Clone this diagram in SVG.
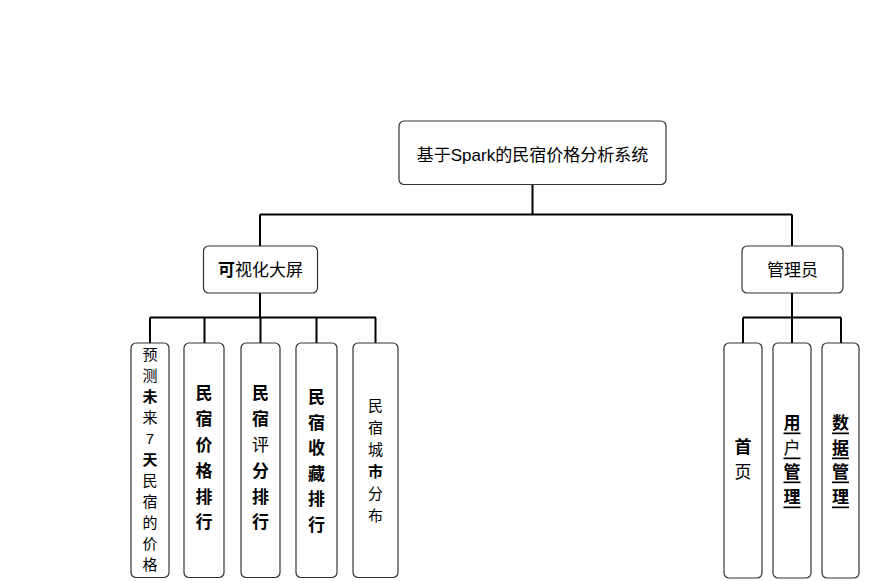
<svg xmlns="http://www.w3.org/2000/svg" width="871" height="581" viewBox="0 0 871 581">
<style>
.box{fill:#fff;stroke:#333;stroke-width:1.2}
.t{font-family:"Liberation Sans","Noto Sans CJK SC",sans-serif;fill:#000;text-anchor:middle;dominant-baseline:central}
.c{fill:none;stroke:#000;stroke-width:2}
.b{font-weight:bold}
.u{text-decoration:underline}
</style>
<rect width="871" height="581" fill="#fff"/>
<g id="connectors">
<path class="c" d="M532.5 185V214.5M260 214.5H792M260 214.5V246M792 214.5V246"/>
<path class="c" d="M260 293V317.5M150 317.5H376M150 317.5V343M204.5 317.5V343M260.5 317.5V343M316.5 317.5V343M375.5 317.5V343"/>
<path class="c" d="M792 293V317.5M743 317.5H841M743 317.5V343M792 317.5V343M841 317.5V343"/>
</g>
<g id="root">
<rect class="box" x="399" y="121" width="267" height="63.5" rx="5"/>
<text class="t" x="532.5" y="155" font-size="17">基于Spark的民宿价格分析系统</text>
</g>
<g id="n-screen">
<rect class="box" x="203.5" y="246" width="114" height="47" rx="5"/>
<text class="t" x="260.5" y="270" font-size="17"><tspan class="b">可</tspan>视化大屏</text>
</g>
<g id="n-admin">
<rect class="box" x="742" y="246" width="101" height="47" rx="5"/>
<text class="t" x="792.5" y="270" font-size="17">管理员</text>
</g>
<g id="n-predict">
<rect class="box" x="131" y="343" width="38" height="234.5" rx="5"/>
<text class="t" font-size="15">
<tspan x="150" y="354">预</tspan><tspan x="150" y="375">测</tspan><tspan class="b" x="150" y="396">未</tspan><tspan x="150" y="417">来</tspan><tspan x="150" y="438">7</tspan><tspan class="b" x="150" y="459">天</tspan><tspan x="150" y="480">民</tspan><tspan x="150" y="501">宿</tspan><tspan x="150" y="522">的</tspan><tspan x="150" y="543">价</tspan><tspan x="150" y="564">格</tspan>
</text>
</g>
<g id="n-price">
<rect class="box" x="184" y="343" width="40" height="234.5" rx="5"/>
<text class="t b" font-size="17">
<tspan x="204" y="393">民</tspan><tspan x="204" y="419">宿</tspan><tspan x="204" y="445">价</tspan><tspan x="204" y="471">格</tspan><tspan x="204" y="497">排</tspan><tspan x="204" y="522">行</tspan>
</text>
</g>
<g id="n-score">
<rect class="box" x="241" y="343" width="39" height="234.5" rx="5"/>
<text class="t" font-size="17">
<tspan class="b" x="260.5" y="393">民</tspan><tspan class="b" x="260.5" y="419">宿</tspan><tspan x="260.5" y="445">评</tspan><tspan class="b" x="260.5" y="471">分</tspan><tspan class="b" x="260.5" y="497">排</tspan><tspan class="b" x="260.5" y="522">行</tspan>
</text>
</g>
<g id="n-fav">
<rect class="box" x="296" y="343" width="41" height="234.5" rx="5"/>
<text class="t b" font-size="17">
<tspan x="316.5" y="397">民</tspan><tspan x="316.5" y="423">宿</tspan><tspan x="316.5" y="448">收</tspan><tspan x="316.5" y="474">藏</tspan><tspan x="316.5" y="499">排</tspan><tspan x="316.5" y="525">行</tspan>
</text>
</g>
<g id="n-city">
<rect class="box" x="353" y="343" width="45" height="234.5" rx="5"/>
<text class="t" font-size="15">
<tspan x="375.5" y="405">民</tspan><tspan x="375.5" y="427">宿</tspan><tspan x="375.5" y="449">城</tspan><tspan class="b" x="375.5" y="471">市</tspan><tspan x="375.5" y="493">分</tspan><tspan x="375.5" y="515">布</tspan>
</text>
</g>
<g id="n-home">
<rect class="box" x="724" y="343" width="38" height="235" rx="5"/>
<text class="t" font-size="17">
<tspan class="b" x="743" y="447">首</tspan><tspan x="743" y="472">页</tspan>
</text>
</g>
<g id="n-user">
<rect class="box" x="773" y="343" width="38" height="235" rx="5"/>
<text class="t u b" font-size="17" x="792" y="423">用</text>
<text class="t u" font-size="17" x="792" y="448">户</text>
<text class="t u b" font-size="17" x="792" y="472">管</text>
<text class="t u b" font-size="17" x="792" y="497">理</text>
</g>
<g id="n-data">
<rect class="box" x="822" y="343" width="37" height="235" rx="5"/>
<text class="t u b" font-size="17" x="840.5" y="423">数</text>
<text class="t u b" font-size="17" x="840.5" y="448">据</text>
<text class="t u b" font-size="17" x="840.5" y="472">管</text>
<text class="t u b" font-size="17" x="840.5" y="497">理</text>
</g>
</svg>
